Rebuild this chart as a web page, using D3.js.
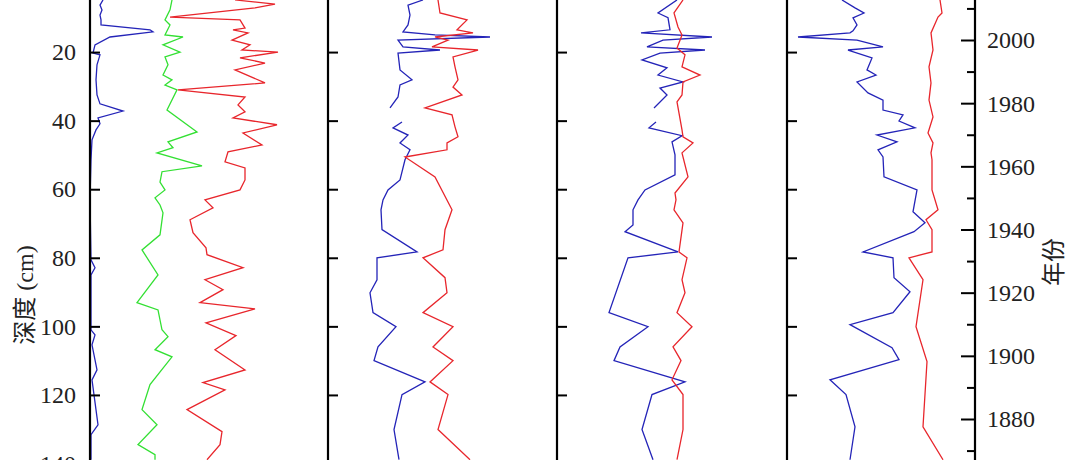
<!DOCTYPE html>
<html>
<head>
<meta charset="utf-8">
<script src="https://cdn.jsdelivr.net/npm/d3@7"></script>
<style>
body { margin: 0; background: #fff; }
svg { display: block; }
text { font-family: "Liberation Serif", "Times New Roman", "DejaVu Serif", "Noto Sans CJK SC", serif; }
</style>
</head>
<body>
<svg id="chart" width="1080" height="460"></svg>
<script>
// depth (cm) / value pairs, one array per curve
var depthTicks = [20, 40, 60, 80, 100, 120, 140];
var yearTicks = [1880, 1900, 1920, 1940, 1960, 1980, 2000];
var panelEdges = [90, 328, 557, 787, 975];

var blue1 = [[4.8,13],[6.3,10],[7.7,12],[9.2,10],[10.6,11],[12.1,11],[13.5,60],[14.1,63],[15.6,20],[17.9,5],[20.3,3],[20.8,10],[23.7,7],[28.1,6],[32.5,7],[35.1,10],[37.2,33],[39.2,8],[40.9,10],[42.7,6],[45.6,2],[51.4,1],[63.1,0],[80.6,1],[82.9,5],[85.0,1],[101,1],[102.5,5],[105.4,2],[112.7,7],[115.6,2],[128.7,8],[131.6,1],[138.9,1]];
var green1 = [[4.8,82],[7.7,80],[10.6,75],[12.1,80],[15.0,75],[15.6,93],[17.9,73],[20.0,90],[21.4,75],[23.7,78],[26.7,73],[28.1,82],[29.6,75],[31.0,87],[36.9,77],[43.3,107],[46.2,78],[47.9,83],[49.4,67],[53.2,112],[54.9,72],[57.9,70],[60.2,75],[62.5,65],[64.6,70],[66.9,73],[73.3,70],[77.7,52],[85.0,68],[93.1,47],[95.2,68],[101.0,72],[103.0,78],[106.8,65],[108.9,82],[117.0,60],[124.3,52],[128.7,67],[134.5,48],[137.4,65],[138.9,65]];
var red1 = [[4.8,145],[6.0,185],[7.1,165],[9.8,80],[10.6,150],[13.0,155],[13.5,143],[14.4,158],[16.5,142],[17.9,160],[19.4,152],[20.0,188],[21.7,150],[23.2,175],[25.2,145],[29.0,175],[31.0,88],[33.1,155],[35.4,148],[37.4,155],[39.2,143],[41.2,187],[43.6,153],[47.1,172],[49.1,138],[52.0,135],[53.8,155],[57.3,155],[60.2,150],[63.1,115],[65.4,123],[68.9,100],[72.7,103],[77.1,116],[79.1,117],[82.9,153],[86.4,115],[89.3,133],[93.1,110],[94.9,165],[99.0,116],[102.7,146],[106.8,125],[112.7,155],[116.4,113],[118.5,135],[124.3,97],[130.7,132],[134.5,130],[138.9,117]];

var blue2 = [[4.8,95],[6.3,80],[9.2,82],[12.1,80],[14.1,75],[15.0,107],[15.6,162],[16.5,70],[18.5,75],[19.4,112],[20.3,70],[25.2,72],[28.1,84],[29.6,72],[33.1,70],[36.3,62],null,[40.4,74],[42.1,65],[44.2,80],[46.5,72],[48.5,82],[51.4,77],[57.3,72],[60.2,60],[63.1,55],[66.0,53],[71.8,54],[78.3,89],[80.0,49],[86.4,49],[90.2,42],[96.0,45],[100.1,68],[106.0,50],[110.0,46],[116.2,97],[119.9,74],[130.1,66],[138.9,71]];
var red2 = [[4.8,110],[8.6,112],[10.6,139],[13.5,129],[14.4,145],[15.6,107],[16.5,120],[18.5,104],[19.4,150],[21.4,125],[24.3,127],[28.1,130],[30.2,125],[32.5,134],[36.3,97],[38.3,124],[41.8,127],[44.7,130],[46.5,119],[48.5,119],[50.6,77],[56.4,107],[66.0,124],[71.8,117],[77.7,115],[80.0,95],[85.8,117],[90.2,119],[96.0,95],[100.1,125],[106.0,105],[110.0,125],[116.2,102],[119.9,120],[130.1,110],[138.9,142]];

var blue3 = [[4.8,120],[8.6,101],[10.0,111],[13.5,113],[14.4,84],[15.6,155],[16.5,106],[18.5,90],[19.4,148],[20.3,103],[22.3,85],[24.6,110],[26.7,101],[28.7,126],[30.5,103],[32.5,110],[36.3,97],null,[40.4,99],[42.1,92],[44.4,125],[46.2,115],[50.0,118],[55.8,118],[60.2,88],[63.1,81],[66.0,76],[70.4,76],[72.4,68],[78.3,121],[80.0,71],[96.0,52],[100.1,91],[106.0,63],[110.0,57],[116.2,128],[119.9,95],[130.1,85],[138.9,96]];
var red3 = [[4.8,126],[8.6,117],[12.7,121],[15.0,125],[18.8,120],[20.8,128],[24.3,125],[26.7,143],[28.7,126],[32.5,125],[34.5,120],[42.7,125],[44.7,126],[46.5,136],[49.4,125],[56.4,131],[61.1,118],[63.1,119],[66.0,117],[69.8,126],[78.3,122],[80.0,130],[86.4,125],[90.2,128],[96.0,120],[100.1,135],[106.0,116],[110.0,124],[115.6,115],[119.9,126],[130.1,126],[138.9,120]];

var blue4 = [[4.8,55],[7.1,68],[8.6,77],[10.0,66],[12.1,70],[13.8,66],[14.4,63],[15.6,11],[16.5,70],[18.5,96],[19.4,61],[21.7,85],[25.2,80],[26.7,89],[28.7,70],[31.9,81],[34.0,96],[36.9,96],[38.3,116],[40.1,112],[42.1,128],[44.2,90],[46.2,110],[48.5,91],[50.6,96],[56.4,97],[60.2,130],[66.6,126],[69.8,138],[72.4,127],[78.3,76],[80.0,106],[85.8,107],[89.9,123],[96.0,106],[99.5,63],[106.2,105],[109.7,112],[115.6,43],[119.9,59],[129.3,68],[138.9,63]];
var red4 = [[4.8,153],[8.6,155],[9.8,151],[14.4,144],[19.4,146],[24.3,142],[29.0,144],[34.0,142],[38.9,146],[43.6,141],[46.5,146],[49.4,144],[51.4,145],[60.2,145],[66.0,151],[68.9,139],[71.8,145],[78.3,145],[80.0,122],[86.4,136],[100.1,129],[110.3,140],[129.3,136],[138.9,156]];

var BLUE = "#2424b8", RED = "#e8262c", GREEN = "#33e033";
var panels = [
  { series: [[blue1, BLUE], [green1, GREEN], [red1, RED]] },
  { series: [[blue2, BLUE], [red2, RED]] },
  { series: [[blue3, BLUE], [red3, RED]] },
  { series: [[blue4, BLUE], [red4, RED]] }
];

var svg = d3.select("#chart");

var y = d3.scaleLinear().domain([0, 140]).range([-16.5, 463.5]);
var yYear = d3.scaleLinear().domain([2000, 1880]).range([40, 419]);

panels.forEach(function (p, i) {
  var x0 = panelEdges[i], x1 = panelEdges[i + 1];
  var x = d3.scaleLinear().domain([0, x1 - x0]).range([x0, x1]);
  var line = d3.line()
    .defined(function (d) { return d !== null; })
    .x(function (d) { return x(d[1]); })
    .y(function (d) { return y(d[0]); });
  p.series.forEach(function (s) {
    svg.append("path").datum(s[0])
      .attr("d", line)
      .attr("fill", "none")
      .attr("stroke", s[1])
      .attr("stroke-width", 1.3);
  });
  // left edge of each panel with inward ticks
  var ax = svg.append("g").attr("transform", "translate(" + x0 + ",0)")
    .call(d3.axisRight(y).tickValues(depthTicks).tickSize(10).tickFormat(""));
  ax.select(".domain").remove();
  ax.selectAll("line").attr("stroke", "#000").attr("stroke-width", 2);
  svg.append("line").attr("x1", x0).attr("x2", x0).attr("y1", 0).attr("y2", 460)
    .attr("stroke", "#000").attr("stroke-width", 2.2);
});

// depth labels
var depthAxis = svg.append("g").attr("transform", "translate(90,0)")
  .call(d3.axisLeft(y).tickValues(depthTicks).tickSize(0).tickPadding(14));
depthAxis.attr("font-family", null);
depthAxis.select(".domain").remove();
depthAxis.selectAll("text").attr("font-size", 24).attr("fill", "#222");

// year axis
var xr = panelEdges[4];
svg.append("line").attr("x1", xr).attr("x2", xr).attr("y1", 0).attr("y2", 460)
  .attr("stroke", "#000").attr("stroke-width", 2.2);
var minorYears = d3.range(1870, 2021, 10).filter(function (v) { return yearTicks.indexOf(v) < 0; });
var minor = svg.append("g").attr("transform", "translate(" + xr + ",0)")
  .call(d3.axisLeft(yYear).tickValues(minorYears).tickSize(8).tickFormat(""));
minor.select(".domain").remove();
minor.selectAll("line").attr("stroke", "#000").attr("stroke-width", 2);
var major = svg.append("g").attr("transform", "translate(" + xr + ",0)")
  .call(d3.axisLeft(yYear).tickValues(yearTicks).tickSize(14).tickFormat(""));
major.select(".domain").remove();
major.selectAll("line").attr("stroke", "#000").attr("stroke-width", 2);
svg.selectAll(".yearLabel").data(yearTicks).enter().append("text")
  .attr("x", xr + 12).attr("y", function (d) { return yYear(d); })
  .attr("dy", "0.35em")
  .attr("font-size", 24).attr("fill", "#222")
  .text(function (d) { return d; });

// axis titles
svg.append("text").attr("transform", "translate(33,295) rotate(-90)")
  .attr("text-anchor", "middle").attr("font-size", 24).attr("fill", "#222")
  .text("深度 (cm)");
svg.append("text").attr("transform", "translate(1062,262) rotate(-90)")
  .attr("text-anchor", "middle").attr("font-size", 24).attr("fill", "#222")
  .text("年份");
</script>
</body>
</html>
